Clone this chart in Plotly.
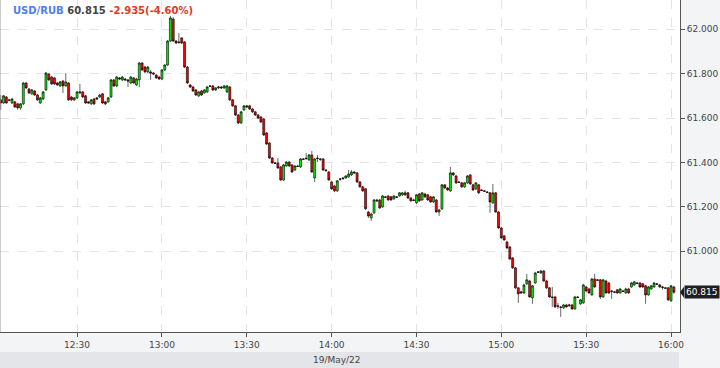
import pandas as pd
import plotly.graph_objects as go

symbol = "USD/RUB"
last_text = "60.815"
change_text = "-2.935(-4.60%)"
date_label = "19/May/22"
start_time = "2022-05-19 12:03"

opens = [
61.682, 61.668, 61.695, 61.682, 61.668, 61.673, 61.664, 61.646, 61.664, 61.758,
61.731, 61.709, 61.722, 61.704, 61.668, 61.686, 61.727, 61.799, 61.785, 61.781,
61.758, 61.745, 61.767, 61.745, 61.758, 61.695, 61.682, 61.691, 61.713, 61.718,
61.700, 61.673, 61.664, 61.686, 61.691, 61.695, 61.709, 61.673, 61.673, 61.695,
61.772, 61.745, 61.781, 61.772, 61.776, 61.772, 61.758, 61.781, 61.749, 61.772,
61.848, 61.830, 61.808, 61.808, 61.803, 61.794, 61.785, 61.776, 61.817, 61.839,
61.947, 62.046, 61.947, 61.943, 61.961, 61.943, 61.830, 61.749, 61.740, 61.727,
61.700, 61.722, 61.713, 61.718, 61.745, 61.745, 61.727, 61.736, 61.740, 61.736,
61.718, 61.740, 61.682, 61.655, 61.614, 61.578, 61.637, 61.655, 61.655, 61.641,
61.628, 61.614, 61.605, 61.596, 61.533, 61.488, 61.420, 61.398, 61.398, 61.380,
61.321, 61.384, 61.402, 61.389, 61.366, 61.384, 61.380, 61.416, 61.420, 61.411,
61.434, 61.330, 61.420, 61.416, 61.416, 61.366, 61.357, 61.312, 61.294, 61.272,
61.326, 61.330, 61.330, 61.335, 61.344, 61.357, 61.353, 61.312, 61.290, 61.281,
61.177, 61.150, 61.173, 61.231, 61.231, 61.200, 61.245, 61.249, 61.245, 61.236,
61.245, 61.249, 61.254, 61.263, 61.263, 61.240, 61.231, 61.218, 61.258, 61.231,
61.258, 61.254, 61.245, 61.222, 61.231, 61.177, 61.191, 61.299, 61.285, 61.272,
61.353, 61.339, 61.312, 61.308, 61.290, 61.308, 61.344, 61.299, 61.281, 61.299,
61.276, 61.272, 61.267, 61.263, 61.218, 61.263, 61.177, 61.105, 61.069, 61.042,
61.019, 60.970, 60.925, 60.835, 60.817, 60.812, 60.853, 60.866, 60.790, 60.857,
60.907, 60.902, 60.911, 60.866, 60.835, 60.794, 60.794, 60.754, 60.749, 60.745,
60.758, 60.754, 60.758, 60.740, 60.794, 60.763, 60.767, 60.839, 60.830, 60.803,
60.875, 60.871, 60.871, 60.794, 60.866, 60.857, 60.821, 60.817, 60.826, 60.812,
60.821, 60.812, 60.830, 60.839, 60.848, 60.857, 60.857, 60.853, 60.844, 60.803,
60.830, 60.839, 60.853, 60.848, 60.839, 60.835, 60.835, 60.776, 60.839]

highs = [
61.704, 61.704, 61.700, 61.686, 61.691, 61.677, 61.668, 61.668, 61.763, 61.763,
61.736, 61.731, 61.727, 61.709, 61.695, 61.722, 61.808, 61.803, 61.790, 61.785,
61.763, 61.767, 61.772, 61.803, 61.763, 61.700, 61.695, 61.722, 61.754, 61.722,
61.704, 61.677, 61.686, 61.691, 61.695, 61.709, 61.713, 61.677, 61.695, 61.776,
61.776, 61.790, 61.785, 61.790, 61.781, 61.776, 61.790, 61.785, 61.781, 61.853,
61.853, 61.835, 61.835, 61.817, 61.808, 61.799, 61.790, 61.821, 61.844, 61.952,
62.060, 62.055, 61.952, 61.983, 61.965, 61.947, 61.835, 61.754, 61.745, 61.731,
61.722, 61.727, 61.731, 61.745, 61.749, 61.749, 61.740, 61.745, 61.745, 61.749,
61.749, 61.745, 61.686, 61.659, 61.618, 61.632, 61.659, 61.659, 61.659, 61.646,
61.632, 61.618, 61.609, 61.600, 61.537, 61.492, 61.425, 61.402, 61.420, 61.384,
61.393, 61.407, 61.407, 61.393, 61.389, 61.389, 61.420, 61.420, 61.443, 61.438,
61.452, 61.420, 61.434, 61.420, 61.420, 61.371, 61.362, 61.317, 61.299, 61.321,
61.330, 61.335, 61.344, 61.366, 61.366, 61.362, 61.357, 61.317, 61.294, 61.285,
61.182, 61.173, 61.236, 61.236, 61.236, 61.254, 61.249, 61.254, 61.249, 61.254,
61.249, 61.267, 61.267, 61.272, 61.267, 61.245, 61.236, 61.258, 61.263, 61.267,
61.263, 61.258, 61.249, 61.249, 61.236, 61.191, 61.303, 61.303, 61.290, 61.380,
61.357, 61.344, 61.317, 61.312, 61.312, 61.344, 61.348, 61.303, 61.312, 61.303,
61.281, 61.276, 61.272, 61.267, 61.303, 61.267, 61.182, 61.110, 61.074, 61.047,
61.024, 60.974, 60.929, 60.839, 60.821, 60.853, 60.898, 60.871, 60.848, 60.907,
60.911, 60.916, 60.916, 60.871, 60.839, 60.839, 60.799, 60.767, 60.754, 60.763,
60.763, 60.763, 60.763, 60.799, 60.799, 60.785, 60.853, 60.844, 60.835, 60.880,
60.898, 60.875, 60.875, 60.875, 60.871, 60.862, 60.826, 60.821, 60.830, 60.835,
60.826, 60.835, 60.835, 60.862, 60.866, 60.862, 60.862, 60.857, 60.848, 60.844,
60.848, 60.862, 60.857, 60.853, 60.844, 60.839, 60.839, 60.848, 60.844]

lows = [
61.637, 61.664, 61.664, 61.677, 61.664, 61.646, 61.637, 61.637, 61.659, 61.731,
61.709, 61.704, 61.700, 61.677, 61.664, 61.682, 61.722, 61.767, 61.749, 61.749,
61.745, 61.740, 61.713, 61.740, 61.677, 61.677, 61.677, 61.686, 61.709, 61.691,
61.664, 61.664, 61.659, 61.659, 61.682, 61.691, 61.664, 61.659, 61.668, 61.691,
61.740, 61.740, 61.772, 61.767, 61.767, 61.740, 61.754, 61.754, 61.745, 61.740,
61.812, 61.803, 61.803, 61.772, 61.794, 61.776, 61.772, 61.772, 61.812, 61.835,
61.943, 61.943, 61.934, 61.934, 61.934, 61.826, 61.754, 61.736, 61.718, 61.700,
61.695, 61.700, 61.709, 61.713, 61.740, 61.722, 61.722, 61.731, 61.731, 61.731,
61.713, 61.677, 61.650, 61.609, 61.573, 61.573, 61.632, 61.646, 61.637, 61.623,
61.609, 61.596, 61.578, 61.519, 61.479, 61.416, 61.393, 61.393, 61.371, 61.317,
61.317, 61.380, 61.380, 61.353, 61.362, 61.380, 61.375, 61.411, 61.411, 61.407,
61.353, 61.312, 61.402, 61.407, 61.362, 61.357, 61.317, 61.276, 61.267, 61.267,
61.317, 61.321, 61.326, 61.330, 61.339, 61.348, 61.308, 61.285, 61.267, 61.186,
61.150, 61.137, 61.168, 61.222, 61.191, 61.195, 61.240, 61.227, 61.227, 61.231,
61.240, 61.245, 61.249, 61.249, 61.236, 61.222, 61.227, 61.213, 61.222, 61.227,
61.240, 61.227, 61.218, 61.218, 61.173, 61.159, 61.186, 61.281, 61.272, 61.267,
61.339, 61.303, 61.308, 61.285, 61.285, 61.303, 61.299, 61.272, 61.276, 61.258,
61.272, 61.267, 61.263, 61.173, 61.213, 61.173, 61.101, 61.056, 61.047, 61.010,
60.961, 60.920, 60.830, 60.767, 60.808, 60.808, 60.848, 60.790, 60.763, 60.853,
60.902, 60.898, 60.862, 60.830, 60.790, 60.749, 60.745, 60.740, 60.704, 60.740,
60.745, 60.749, 60.736, 60.736, 60.790, 60.758, 60.763, 60.817, 60.808, 60.799,
60.835, 60.866, 60.785, 60.790, 60.808, 60.808, 60.785, 60.812, 60.808, 60.808,
60.817, 60.808, 60.808, 60.835, 60.844, 60.853, 60.835, 60.835, 60.763, 60.799,
60.826, 60.835, 60.848, 60.835, 60.826, 60.830, 60.776, 60.772, 60.808]

closes = [
61.668, 61.700, 61.668, 61.680, 61.686, 61.650, 61.646, 61.664, 61.758, 61.736,
61.713, 61.727, 61.704, 61.682, 61.691, 61.718, 61.803, 61.772, 61.754, 61.754,
61.749, 61.763, 61.745, 61.763, 61.682, 61.682, 61.691, 61.718, 61.718, 61.695,
61.668, 61.668, 61.682, 61.664, 61.686, 61.704, 61.668, 61.664, 61.691, 61.772,
61.745, 61.785, 61.776, 61.785, 61.772, 61.767, 61.785, 61.758, 61.776, 61.848,
61.817, 61.808, 61.830, 61.803, 61.799, 61.781, 61.776, 61.817, 61.839, 61.947,
62.051, 61.947, 61.938, 61.941, 61.938, 61.830, 61.758, 61.740, 61.722, 61.704,
61.718, 61.704, 61.727, 61.740, 61.743, 61.727, 61.736, 61.740, 61.736, 61.745,
61.745, 61.682, 61.655, 61.614, 61.578, 61.628, 61.655, 61.650, 61.641, 61.628,
61.614, 61.600, 61.582, 61.524, 61.483, 61.420, 61.398, 61.396, 61.375, 61.321,
61.389, 61.402, 61.384, 61.357, 61.384, 61.382, 61.416, 61.414, 61.418, 61.434,
61.357, 61.416, 61.418, 61.414, 61.366, 61.364, 61.321, 61.281, 61.272, 61.317,
61.324, 61.328, 61.339, 61.348, 61.357, 61.353, 61.312, 61.290, 61.272, 61.191,
61.159, 61.168, 61.231, 61.227, 61.195, 61.249, 61.243, 61.231, 61.231, 61.249,
61.243, 61.263, 61.263, 61.254, 61.240, 61.227, 61.229, 61.254, 61.227, 61.263,
61.245, 61.231, 61.222, 61.245, 61.177, 61.186, 61.299, 61.285, 61.276, 61.353,
61.344, 61.308, 61.310, 61.290, 61.308, 61.339, 61.303, 61.276, 61.308, 61.263,
61.274, 61.270, 61.265, 61.222, 61.263, 61.177, 61.105, 61.060, 61.051, 61.015,
60.965, 60.925, 60.835, 60.808, 60.812, 60.848, 60.871, 60.794, 60.844, 60.902,
60.905, 60.911, 60.866, 60.835, 60.794, 60.792, 60.749, 60.752, 60.747, 60.758,
60.749, 60.758, 60.740, 60.794, 60.792, 60.781, 60.848, 60.821, 60.812, 60.875,
60.839, 60.869, 60.794, 60.871, 60.812, 60.812, 60.819, 60.815, 60.812, 60.830,
60.819, 60.830, 60.812, 60.857, 60.862, 60.855, 60.839, 60.839, 60.803, 60.839,
60.844, 60.857, 60.851, 60.839, 60.837, 60.833, 60.781, 60.844, 60.815]

y_ticks = [61.0, 61.2, 61.4, 61.6, 61.8, 62.0]
y_range = [60.636, 62.132]
x_range = ["2022-05-19 12:02:45", "2022-05-19 16:03:10"]

times = pd.date_range(start_time, periods=len(closes), freq="min")

FONT = "DejaVu Sans"
GRID = "#e3e3e3"
AXIS = "#555555"

fig = go.Figure()
fig.add_trace(go.Candlestick(
    x=times, open=opens, high=highs, low=lows, close=closes,
    increasing=dict(fillcolor="#00ee00", line=dict(color="#000000", width=0.6)),
    decreasing=dict(fillcolor="#ff0000", line=dict(color="#000000", width=0.6)),
    whiskerwidth=0, showlegend=False, hoverinfo="skip",
))

W, H = 720, 368
ml, mr, mt, mb = 0, 40, 0, 36
pw = W - ml - mr
ph = H - mt - mb

fig.update_layout(
    width=W, height=H,
    margin=dict(l=ml, r=mr, t=mt, b=mb, pad=0),
    paper_bgcolor="#f3f4f6",
    plot_bgcolor="#ffffff",
    boxgap=0.0,
    font=dict(family=FONT, size=9, color="#444444"),
    showlegend=False,
    xaxis=dict(
        type="date", range=x_range, rangeslider=dict(visible=False),
        dtick=30 * 60 * 1000, tick0="2022-05-19 12:00", tickformat="%H:%M",
        showgrid=True, gridcolor=GRID, griddash="dash", gridwidth=1,
        ticks="outside", ticklen=4, tickcolor=AXIS,
        showline=True, linecolor=AXIS, linewidth=1,
        tickfont=dict(family=FONT, size=9, color="#444444"),
        zeroline=False, fixedrange=True,
    ),
    yaxis=dict(
        side="right", range=y_range, tickvals=y_ticks, tickformat=".3f",
        showgrid=True, gridcolor=GRID, griddash="dash", gridwidth=1,
        ticks="outside", ticklen=4, tickcolor=AXIS,
        showline=True, linecolor=AXIS, linewidth=1,
        tickfont=dict(family=FONT, size=9, color="#444444"),
        zeroline=False, fixedrange=True,
    ),
)

# left border of the plot area
fig.add_shape(type="line", xref="paper", yref="paper", x0=0, x1=0, y0=0, y1=1,
              line=dict(color="#9a9a9a", width=1))

# date strip under the time axis
strip_top = -(352 - ph) / ph
fig.add_shape(type="rect", xref="paper", yref="paper", x0=0, x1=679 / pw,
              y0=strip_top, y1=-(H - ph) / ph, fillcolor="#e4e5e8", line=dict(width=0), layer="below")
fig.add_annotation(xref="paper", yref="paper", x=337 / pw, y=-(360 - ph) / ph,
                   text=date_label, showarrow=False, xanchor="center", yanchor="middle",
                   font=dict(family=FONT, size=9, color="#444444"))

# title
title_html = (f"<b><span style='color:#4d7ef0'>{symbol}</span> "
              f"<span style='color:#444444'>{last_text}</span> "
              f"<span style='color:#e2391d'>{change_text}</span></b>")
fig.add_annotation(xref="paper", yref="paper", x=11 / pw, y=1 - 3 / ph,
                   text=title_html, showarrow=False, xanchor="left", yanchor="top",
                   font=dict(family=FONT, size=10))

# last price marker
last = closes[-1]
dy = 5.5 * (y_range[1] - y_range[0]) / ph
fig.add_shape(type="path", xref="paper", yref="y",
              path=f"M 1,{last} L {1 + 4 / pw},{last + dy} L {1 + 4 / pw},{last - dy} Z",
              fillcolor="#1e1e1e", line=dict(width=0))
fig.add_annotation(xref="paper", yref="y", x=1 + 4 / pw, y=last,
                   text=f"{last:.3f}", showarrow=False, xanchor="left", yanchor="middle",
                   bgcolor="#1e1e1e", borderpad=1,
                   font=dict(family=FONT, size=9, color="#ffffff"))

fig.write_html("out.html")
